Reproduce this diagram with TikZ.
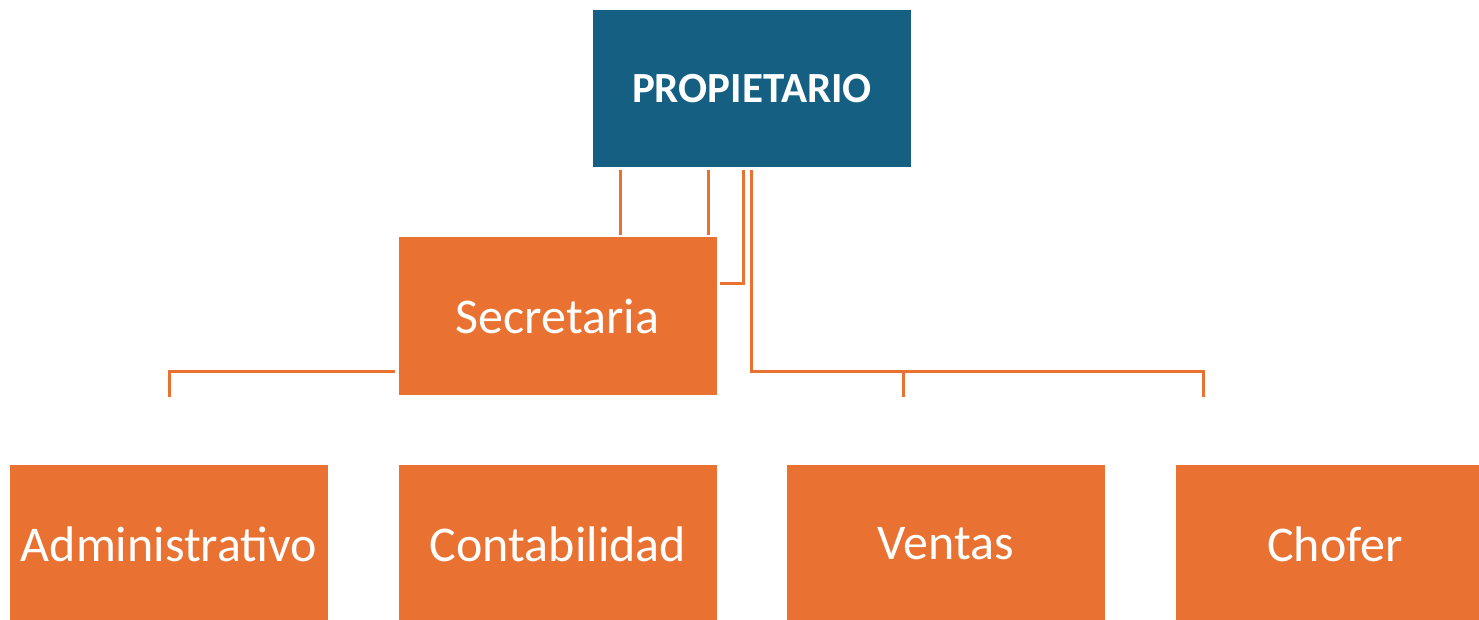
\documentclass[tikz,border=0pt]{standalone}
\usepackage{fontspec}
\setmainfont{Carlito}
\definecolor{obox}{HTML}{E97132}
\definecolor{bbox}{HTML}{156082}
\begin{document}
\begin{tikzpicture}[x=1pt,y=-1pt,
  orgbox/.style={rectangle,fill=obox,text=white,inner sep=0pt,outer sep=0pt,
    minimum width=318pt,minimum height=158pt,font=\fontsize{50}{60}\selectfont},
  topbox/.style={rectangle,fill=bbox,text=white,inner sep=0pt,outer sep=0pt,
    minimum width=318pt,minimum height=157pt,font=\fontsize{43}{52}\selectfont\bfseries},
  conn/.style={draw=obox,line width=3pt,line cap=butt,line join=miter}]
\useasboundingbox (0,0) rectangle (1479,619);
\clip (0,0) rectangle (1479,619);
\node[topbox] (prop) at (752,88.5) {PROPIETARIO};
\node[orgbox] (sec) at (557.5,316) {Secretaria};
\node[orgbox] (adm) at (169,544) {Administrativo};
\node[orgbox] (cont) at (558,544) {Contabilidad};
\node[orgbox] (vent) at (946,544) {Ventas};
\node[orgbox] (chof) at (1335,544) {Chofer};
% connectors
\coordinate (c1) at (620,170);
\coordinate (c2) at (708,170);
\coordinate (c3) at (743,170);
\coordinate (c3b) at (743,283);
\coordinate (c4) at (751,170);
\coordinate (c4b) at (751,371);
\coordinate (v1) at (903,371);
\coordinate (v2) at (1203,371);
\coordinate (l1) at (395,371);
\coordinate (l2) at (169,371);
\draw[conn,shorten >=2pt] (c1) -- (c1 |- sec.north);
\draw[conn,shorten >=2pt] (c2) -- (c2 |- sec.north);
\draw[conn,shorten >=3pt] (c3) -- (c3b) -- (c3b -| sec.east);
\draw[conn] (c4) -- (c4b) -- (v2) -- ++(0,26);
\draw[conn] (v1) -- ++(0,26);
\draw[conn] (l1) -- (l2) -- ++(0,26);
\end{tikzpicture}
\end{document}
